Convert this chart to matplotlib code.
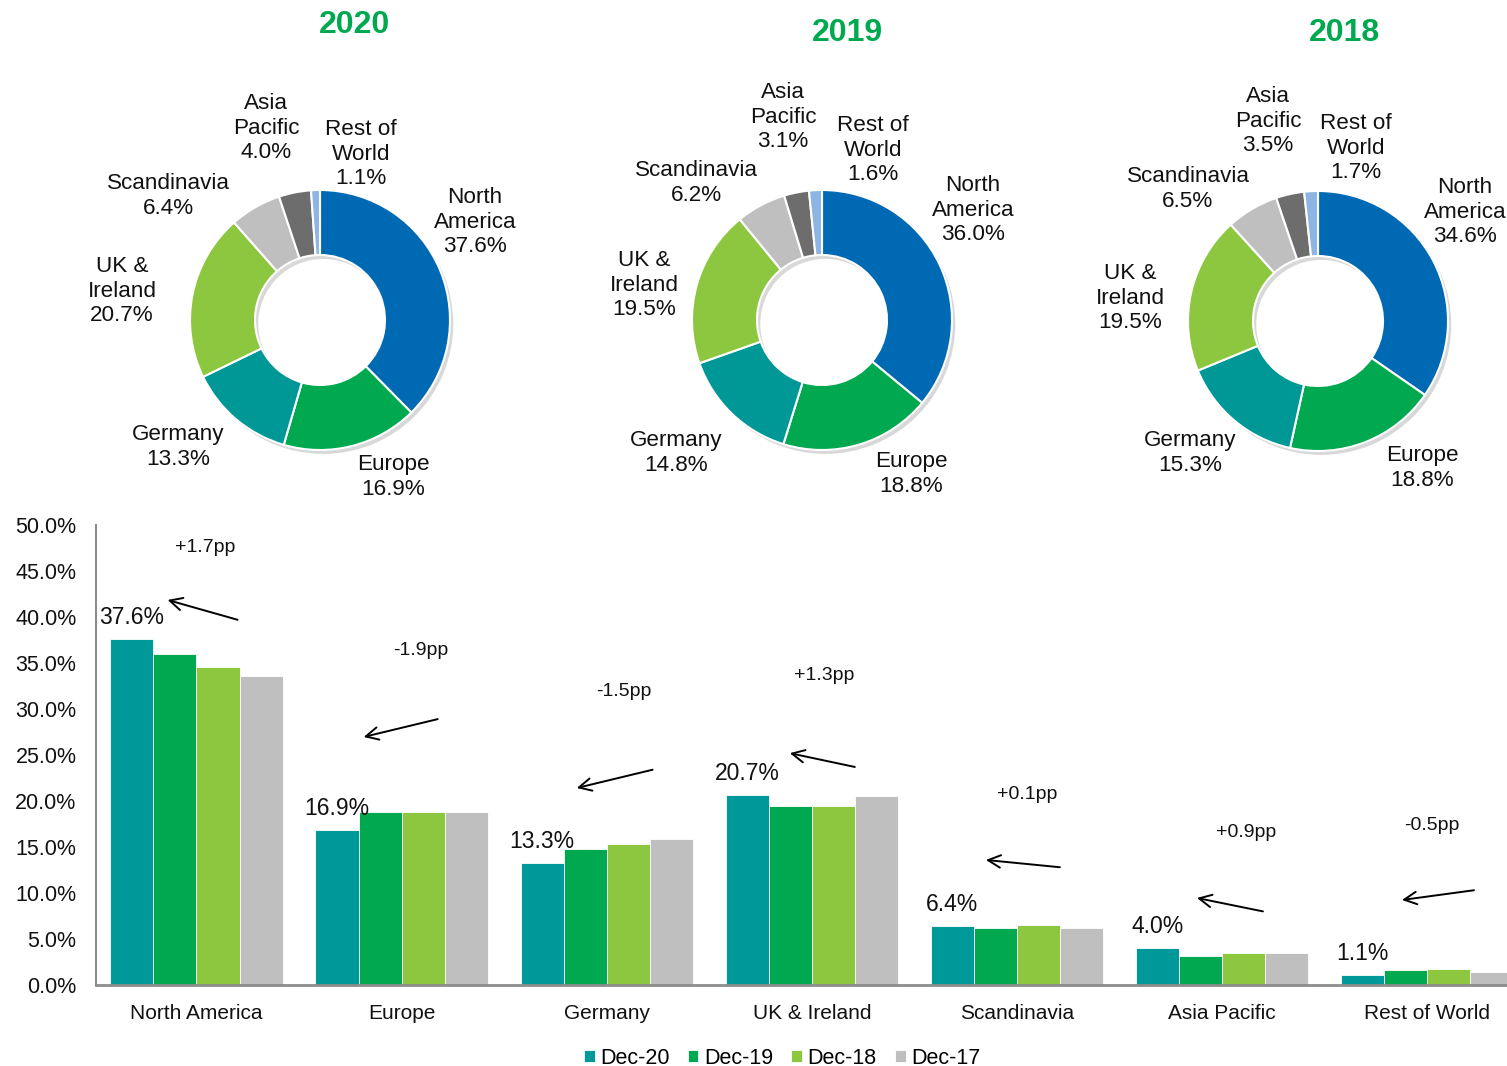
import numpy as np
import matplotlib
matplotlib.use('Agg')
import matplotlib.pyplot as plt
from matplotlib.patches import Wedge

plt.rcParams['font.family'] = ['Liberation Sans', 'DejaVu Sans']

# data
regions = ['North America', 'Europe', 'Germany', 'UK & Ireland',
           'Scandinavia', 'Asia Pacific', 'Rest of World']
donut_labels = ['North\nAmerica', 'Europe', 'Germany', 'UK &\nIreland',
                'Scandinavia', 'Asia\nPacific', 'Rest of\nWorld']
years = ['2020', '2019', '2018']
share_2020 = [37.6, 16.9, 13.3, 20.7, 6.4, 4.0, 1.1]
share_2019 = [36.0, 18.8, 14.8, 19.5, 6.2, 3.1, 1.6]
share_2018 = [34.6, 18.8, 15.3, 19.5, 6.5, 3.5, 1.7]
share_2017 = [33.6, 18.8, 15.9, 20.5, 6.2, 3.5, 1.4]
series_names = ['Dec-20', 'Dec-19', 'Dec-18', 'Dec-17']
changes = ['+1.7pp', '-1.9pp', '-1.5pp', '+1.3pp', '+0.1pp', '+0.9pp', '-0.5pp']

donut_colors = ['#0069B4', '#00A94F', '#009797', '#8DC63F',
                '#BFBFBF', '#6D6D6D', '#8EB4E3']
bar_colors = ['#009999', '#00A94F', '#8DC63F', '#BFBFBF']
title_green = '#00A94F'

W, H = 1507, 1066
fig = plt.figure(figsize=(W / 100, H / 100), dpi=100)

# donut layout (pixel centres, radius)
donut_centres = [(320, 320), (822, 320), (1318, 321)]
title_pos = [(355, 25), (847, 33), (1345, 33)]
R = 130
box = 200
# label offsets from donut centre in pixels (x right, y down)
label_offsets = [
    [(155, -98), (73, 157), (-142, 127), (-198, -29), (-152, -124), (-54, -192), (41, -166)],
    [(151, -110), (89, 154), (-146, 133), (-178, -35), (-126, -137), (-39, -203), (51, -170)],
    [(147, -109), (104, 147), (-128, 132), (-188, -23), (-130, -132), (-50, -200), (38, -173)],
]

for k, shares in enumerate([share_2020, share_2019, share_2018]):
    cx, cy = donut_centres[k]
    ax = fig.add_axes([(cx - box) / W, 1 - (cy + box) / H, 2 * box / W, 2 * box / H])
    lim = box / R
    ax.set_aspect('equal')
    ax.axis('off')
    # faint shadow
    ax.add_patch(Wedge((0.025, -0.03), 1.0, 0, 360, width=0.5,
                       facecolor='#d8d8d8', edgecolor='none', zorder=0))
    ax.pie(shares, colors=donut_colors, startangle=90, counterclock=False,
           radius=1.0, wedgeprops=dict(width=0.5, edgecolor='white', linewidth=1.5))
    ax.set_xlim(-lim, lim)
    ax.set_ylim(-lim, lim)
    for j in range(len(regions)):
        dx, dy = label_offsets[k][j]
        ax.text(dx / R, -dy / R, donut_labels[j] + '\n' + f'{shares[j]:.1f}%',
                ha='center', va='center', fontsize=16.2, linespacing=1.2,
                color='#111111')
    tx, ty = title_pos[k]
    fig.text(tx / W, 1 - ty / H, years[k], ha='center', va='center',
             fontsize=23, fontweight='bold', color=title_green)

# bar chart
bx = fig.add_axes([96 / W, 1 - 985 / H, (W - 96) / W, (985 - 525) / H])
x = np.arange(len(regions))
bw = 0.21
all_series = [share_2020, share_2019, share_2018, share_2017]
for s, vals in enumerate(all_series):
    bx.bar(x + (s - 1.5) * bw, vals, width=bw, color=bar_colors[s],
           edgecolor='white', linewidth=0.6, label=series_names[s], zorder=2)

for i, v in enumerate(share_2020):
    bx.annotate(f'{v:.1f}%', (x[i] - 1.5 * bw, v), xytext=(0, 7),
                textcoords='offset points', ha='center', va='bottom',
                fontsize=16.5, color='#111111')

# change arrows (tail -> head) and labels, in data units
arrow_tail = [(0.20, 39.7), (1.176, 28.9), (2.224, 23.4), (3.21, 23.7),
              (4.21, 12.8), (5.20, 8.0), (6.229, 10.3)]
arrow_head = [(-0.141, 41.85), (0.815, 26.96), (1.854, 21.41), (2.893, 25.2),
              (3.849, 13.59), (4.878, 9.46), (5.878, 9.24)]
change_pos = [(0.044, 47.5), (1.093, 36.4), (2.083, 31.85), (3.063, 33.6),
              (4.049, 20.76), (5.117, 16.63), (6.024, 17.39)]
for i in range(len(regions)):
    bx.annotate('', xy=arrow_head[i], xytext=arrow_tail[i],
                arrowprops=dict(arrowstyle='->,head_length=0.9,head_width=0.45',
                                color='black', lw=1.4, shrinkA=0, shrinkB=0))
    bx.text(change_pos[i][0], change_pos[i][1], changes[i], ha='center',
            va='center', fontsize=14, color='#111111')

bx.set_xlim(-0.49, 6.39)
bx.set_ylim(0, 50)
bx.set_yticks(np.arange(0, 50.1, 5))
bx.set_yticklabels([f'{t:.1f}%' for t in np.arange(0, 50.1, 5)])
bx.set_xticks(x)
bx.set_xticklabels(regions)
bx.tick_params(axis='y', length=0, pad=14, labelsize=15.5, labelcolor='#111111')
bx.tick_params(axis='x', length=0, pad=14, labelsize=15, labelcolor='#111111')
for side in ['top', 'right']:
    bx.spines[side].set_visible(False)
bx.spines['left'].set_color('#8c8c8c')
bx.spines['left'].set_linewidth(1.5)
bx.spines['bottom'].set_color('#8c8c8c')
bx.spines['bottom'].set_linewidth(2.0)
bx.patch.set_alpha(0)

fig.legend(*bx.get_legend_handles_labels(), loc='center',
           bbox_to_anchor=(782 / W, 1 - 1058 / H), ncol=4, frameon=False,
           fontsize=15.5, handlelength=0.5, handleheight=0.5,
           handletextpad=0.25, columnspacing=0.85)

fig.savefig('out.png', dpi=100)
